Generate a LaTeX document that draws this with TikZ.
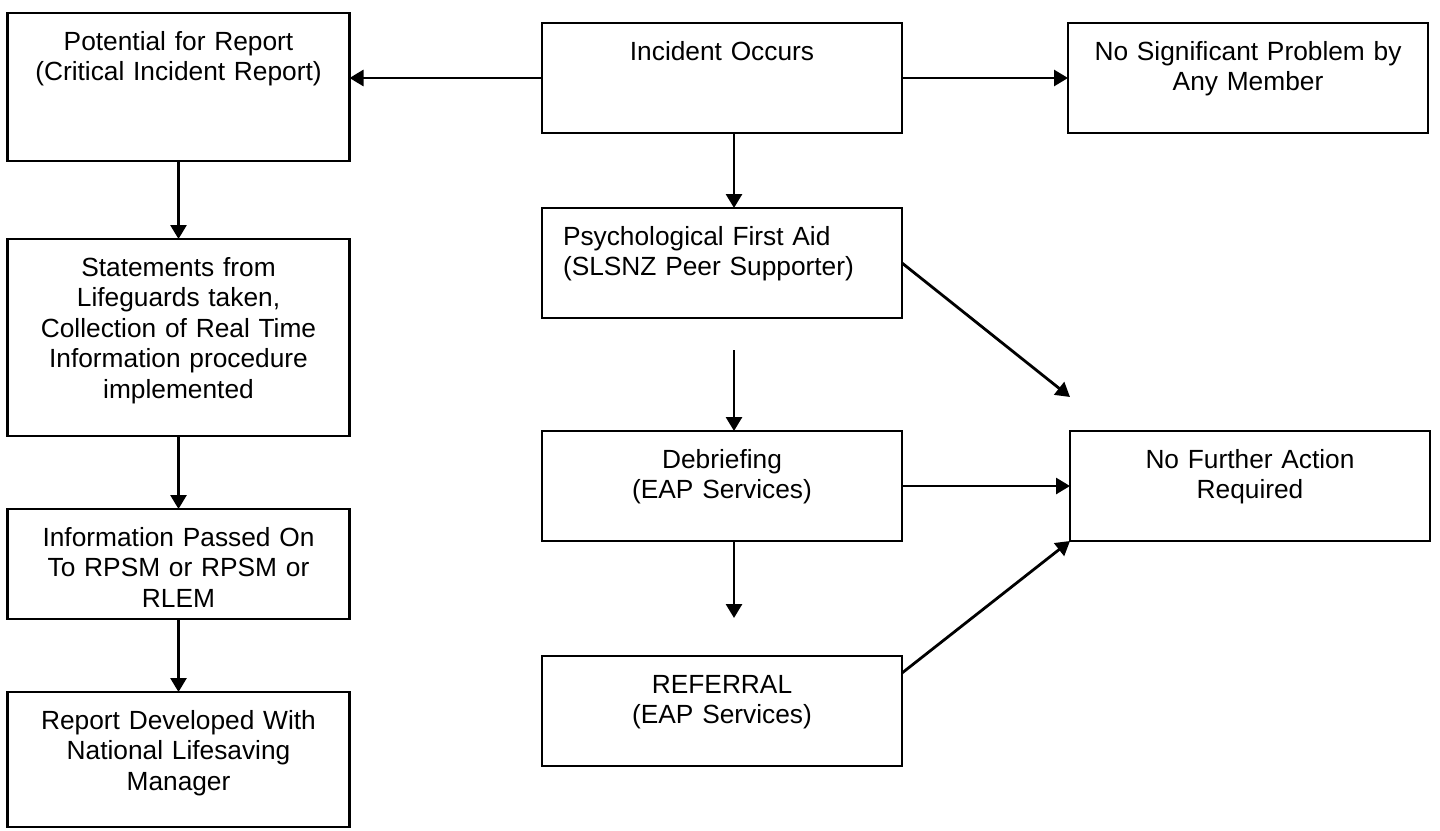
\documentclass[tikz,border=0pt]{standalone}
\usepackage{fontspec}
\setmainfont{Liberation Sans}
\usetikzlibrary{arrows.meta, positioning}

\begin{document}
\begin{tikzpicture}[node distance=36pt, >={Triangle[length=7pt,width=8pt]}, every node/.style={font=\fontsize{13.15}{15.25}\selectfont}]
    \tikzstyle{block} = [rectangle, draw, line width=1.4pt, inner sep=0pt, outer sep=0pt, align=center, text height=18.5pt]
    \tikzstyle{lblock} = [block, text width=171pt]
    \tikzstyle{rblock} = [block, text width=180pt, text depth=36.5pt]
    \tikzstyle{line} = [draw, ->, line width=1.4pt]

    \useasboundingbox (0,0) rectangle (720pt,-415pt);

    % report side
    \node [lblock, text depth=55.5pt, anchor=north] (pot) at (89.25pt,-6.5pt) {Potential for Report\\(Critical Incident Report)};
    \node [lblock, text depth=80pt, below=39pt of pot] (stm) {Statements from\\Lifeguards taken,\\Collection of Real Time\\Information procedure\\implemented};
    \node [lblock, text depth=36.5pt, below=36.5pt of stm] (info) {Information Passed On\\To RPSM or RPSM or\\RLEM};
    \node [lblock, text depth=49pt, below=36.5pt of info] (rep) {Report Developed With\\National Lifesaving\\Manager};

    % support side
    \node [rblock, anchor=north] (inc) at (361pt,-11.5pt) {Incident Occurs};
    \node [rblock, right=83pt of inc] (nsp) {No Significant Problem by\\Any Member};
    \node [rblock, align=left, inner xsep=10.5pt, text width=159pt, below=37.5pt of inc] (psy) {Psychological First Aid\\(SLSNZ Peer Supporter)};
    \node [rblock, below=56.5pt of psy] (deb) {Debriefing\\(EAP Services)};
    \node [rblock, below=57.5pt of deb] (ref) {REFERRAL\\(EAP Services)};
    \node [rblock, right=84pt of deb] (nfa) {No Further Action\\Required};

    \coordinate (psygap) at ([xshift=6pt,yshift=-16pt]psy.south);
    \coordinate (debgap) at ([xshift=6pt,yshift=-38.5pt]deb.south);

    \path [line] (inc.west) -- (inc.west -| pot.east);
    \path [line] (inc.east) -- (nsp.west);
    \path [line] ([xshift=6pt]inc.south) -- ([xshift=6pt]psy.north);
    \path [line] (pot) -- (stm);
    \path [line] (stm) -- (info);
    \path [line] (info) -- (rep);
    \path [line] (psygap) -- ([xshift=6pt]deb.north);
    \path [line] ([xshift=6pt]deb.south) -- (debgap);
    \path [line] (psy.east) -- ([yshift=17pt]nfa.north west);
    \path [line] (deb.east) -- (nfa.west);
    \path [line] ([yshift=19pt]ref.east) -- (nfa.south west);
\end{tikzpicture}
\end{document}
